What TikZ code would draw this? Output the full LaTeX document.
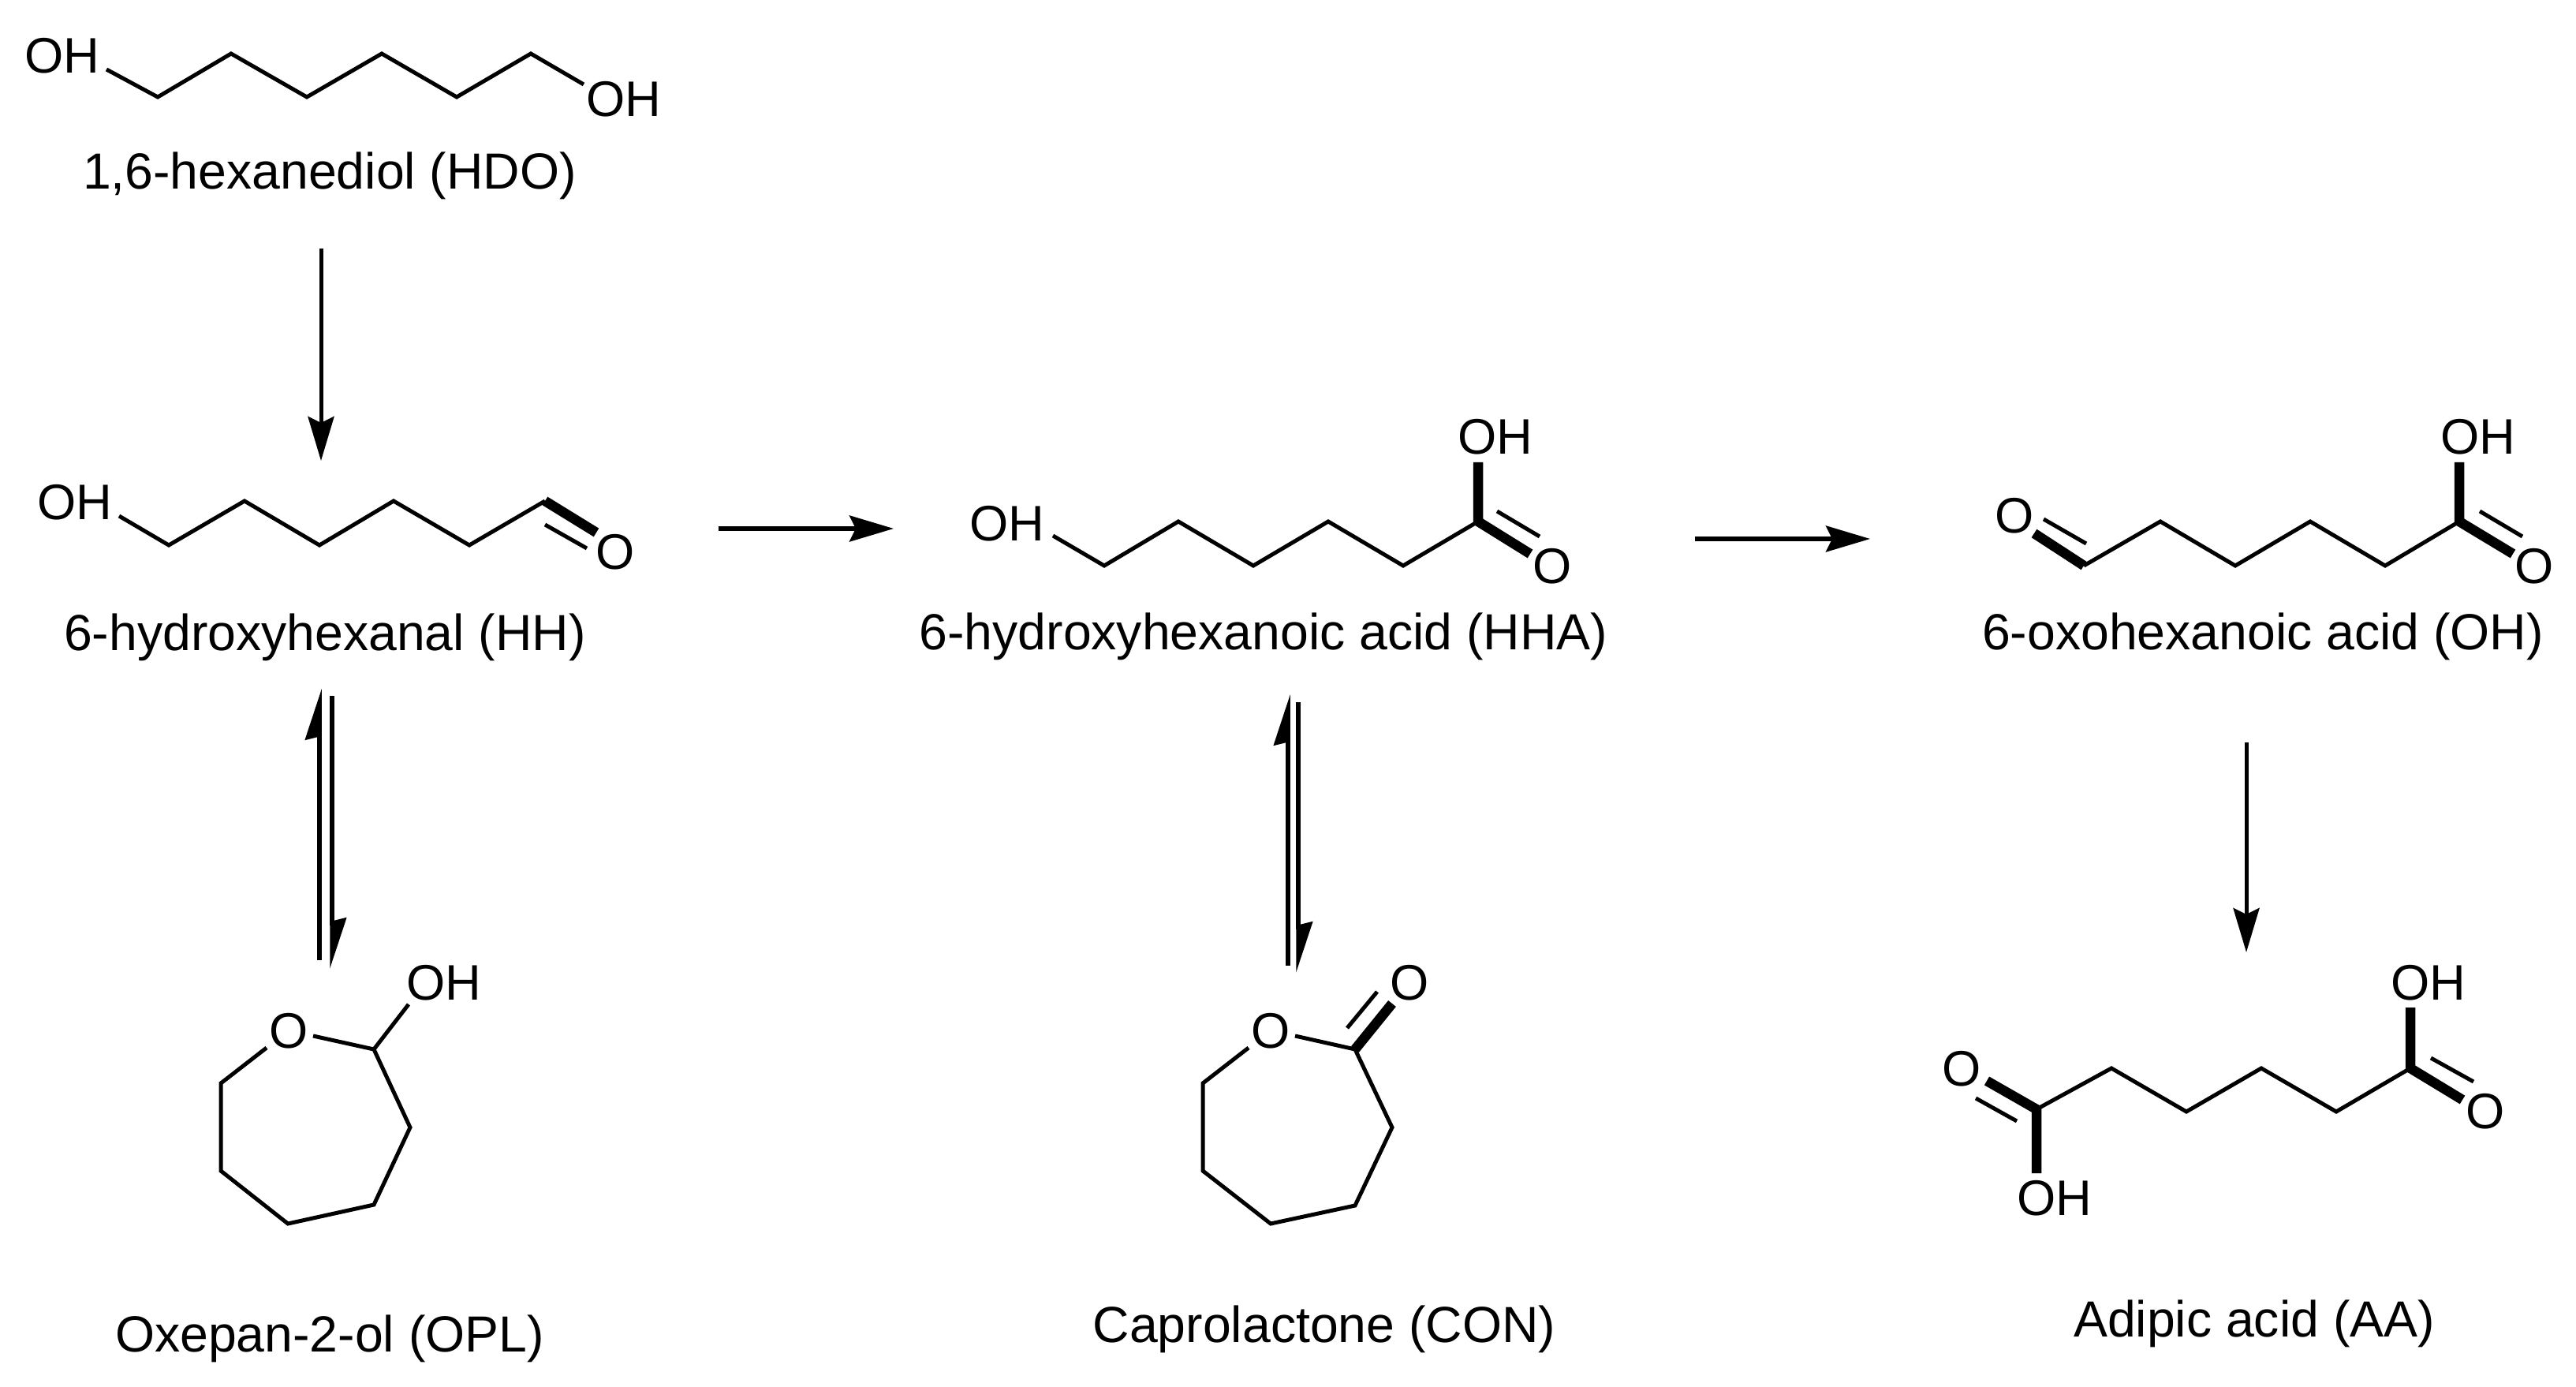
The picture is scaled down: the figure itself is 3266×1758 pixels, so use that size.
\documentclass[tikz,border=0pt]{standalone}
\usepackage{fontspec}
\setmainfont{Liberation Sans}
\usetikzlibrary{arrows.meta}
\tikzset{
    bond/.style={line width=0.5mm},
    boldbond/.style={line width=1.25mm},
    atom/.style={font=\fontsize{18}{22}\selectfont, inner sep=0pt},
    caption/.style={font=\fontsize{18.3}{22}\selectfont, inner sep=0pt, anchor=base},
    rxnarrow/.style={line width=0.5mm, -{Stealth[length=5.6mm,width=3.3mm,inset=0.8mm]}},
    eqarrow/.style={line width=0.55mm, -{Stealth[harpoon,length=5.6mm,width=3.6mm,inset=0.4mm]}}
}

\begin{document}
\begin{tikzpicture}[x=0.01cm,y=-0.01cm]
    \useasboundingbox (0,0) rectangle (3266,1758);

    % 1,6-hexanediol
    \node[atom] (hdoA) at (79,71) {OH};
    \node[atom] (hdoB) at (791,126) {OH};
    \node[caption] (hdoname) at (418,240) {1,6-hexanediol (HDO)};
    \foreach \n/\x/\y in {0/135/88,1/200/123,2/293/68,3/389/123,4/484/68,5/579/123,6/673/68,7/740/107}
        \coordinate (hdo\n) at (\x,\y);
    \draw[bond] (hdo0) -- (hdo1) -- (hdo2) -- (hdo3) -- (hdo4) -- (hdo5) -- (hdo6) -- (hdo7);

    % 6-hydroxyhexanal
    \node[atom] (hhA) at (95,637) {OH};
    \node[atom] (hhO) at (780,700) {O};
    \node[caption] (hhname) at (412,824) {6-hydroxyhexanal (HH)};
    \foreach \n/\x/\y in {0/151/654,1/214/691,2/310/635,3/405/691,4/499/635,5/595/691,6/691/635,7/756/675,8/691/665,9/744/695}
        \coordinate (hh\n) at (\x,\y);
    \draw[bond] (hh0) -- (hh1) -- (hh2) -- (hh3) -- (hh4) -- (hh5) -- (hh6);
    \draw[boldbond] (hh6) -- (hh7);
    \draw[bond] (hh8) -- (hh9);

    % 6-hydroxyhexanoic acid
    \node[atom] (hhaA) at (1277,664) {OH};
    \node[atom] (hhaB) at (1896,554) {OH};
    \node[atom] (hhaO) at (1968,718) {O};
    \node[caption] (hhaname) at (1602,823) {6-hydroxyhexanoic acid (HHA)};
    \foreach \n/\x/\y in {0/1335/679,1/1400/717,2/1494/661,3/1589/717,4/1684/661,5/1779/717,6/1874/661,7/1874/586,8/1940/702,9/1898/648,10/1952/680}
        \coordinate (hha\n) at (\x,\y);
    \draw[bond] (hha0) -- (hha1) -- (hha2) -- (hha3) -- (hha4) -- (hha5) -- (hha6);
    \draw[boldbond] (hha7) -- (hha6) -- (hha8);
    \draw[bond] (hha9) -- (hha10);

    % 6-oxohexanoic acid
    \node[atom] (ohO) at (2554,654) {O};
    \node[atom] (ohB) at (3142,554) {OH};
    \node[atom] (ohP) at (3213,718) {O};
    \node[caption] (ohname) at (2869,823) {6-oxohexanoic acid (OH)};
    \foreach \n/\x/\y in {0/2579/676,1/2642/717,2/2739/661,3/2834/717,4/2929/661,5/3024/717,6/3118/661,7/3118/586,8/3186/702,9/2591/658,10/2645/689,11/3144/648,12/3198/680}
        \coordinate (oh\n) at (\x,\y);
    \draw[boldbond] (oh0) -- (oh1);
    \draw[bond] (oh1) -- (oh2) -- (oh3) -- (oh4) -- (oh5) -- (oh6);
    \draw[boldbond] (oh7) -- (oh6) -- (oh8);
    \draw[bond] (oh9) -- (oh10);
    \draw[bond] (oh11) -- (oh12);

    % Adipic acid
    \node[atom] (aaO) at (2487,1355) {O};
    \node[atom] (aaA) at (2605,1519) {OH};
    \node[atom] (aaB) at (3079,1246) {OH};
    \node[atom] (aaP) at (3151,1409) {O};
    \node[caption] (aaname) at (2858,1694) {Adipic acid (AA)};
    \foreach \n/\x/\y in {0/2519/1370,1/2582/1406,2/2582/1487,3/2677/1354,4/2772/1409,5/2867/1354,6/2962/1409,7/3056/1354,8/3056/1277,9/3122/1394,10/2505/1392,11/2557/1421,12/3082/1341,13/3136/1371}
        \coordinate (aa\n) at (\x,\y);
    \draw[boldbond] (aa0) -- (aa1) -- (aa2);
    \draw[bond] (aa1) -- (aa3) -- (aa4) -- (aa5) -- (aa6) -- (aa7);
    \draw[boldbond] (aa8) -- (aa7) -- (aa9);
    \draw[bond] (aa10) -- (aa11);
    \draw[bond] (aa12) -- (aa13);

    % Oxepan-2-ol
    \node[atom] (oplO) at (366,1307) {O};
    \node[atom] (oplA) at (563,1246) {OH};
    \node[caption] (oplname) at (418,1713) {Oxepan-2-ol (OPL)};
    \foreach \n/\x/\y in {0/397/1313,1/474/1330,2/520/1429,3/474/1527,4/365/1551,5/280/1484,6/280/1373,7/338/1328,8/518/1273}
        \coordinate (opl\n) at (\x,\y);
    \draw[bond] (opl0) -- (opl1) -- (opl2) -- (opl3) -- (opl4) -- (opl5) -- (opl6) -- (opl7);
    \draw[bond] (opl1) -- (opl8);

    % Caprolactone
    \node[atom] (conO) at (1611,1307) {O};
    \node[atom] (conP) at (1787,1246) {O};
    \node[caption] (conname) at (1679,1701) {Caprolactone (CON)};
    \foreach \n/\x/\y in {0/1642/1313,1/1718/1330,2/1765/1429,3/1718/1528,4/1611/1551,5/1525/1484,6/1525/1373,7/1583/1328,8/1765/1272,9/1708/1303,10/1746/1257}
        \coordinate (con\n) at (\x,\y);
    \draw[bond] (con0) -- (con1) -- (con2) -- (con3) -- (con4) -- (con5) -- (con6) -- (con7);
    \draw[boldbond] (con1) -- (con8);
    \draw[bond] (con9) -- (con10);

    % reaction arrows
    \foreach \n/\x/\y/\u/\v in {a/407/315/407/584,b/911/670/1133/670,c/2149/683/2371/683,d/2848/941/2848/1207}{
        \coordinate (from\n) at (\x,\y);
        \coordinate (to\n) at (\u,\v);
        \draw[rxnarrow] (from\n) -- (to\n);
    }

    % equilibrium arrows
    \foreach \n/\x/\y/\u/\v in {a/405/1217/405/873,b/421/882/421/1228,c/1633/1224/1633/880,d/1646/890/1646/1233}{
        \coordinate (from\n) at (\x,\y);
        \coordinate (to\n) at (\u,\v);
    }
    \draw[eqarrow] (froma) -- (toa);
    \draw[eqarrow] (fromb) -- (tob);
    \draw[eqarrow] (fromc) -- (toc);
    \draw[eqarrow] (fromd) -- (tod);
\end{tikzpicture}
\end{document}
